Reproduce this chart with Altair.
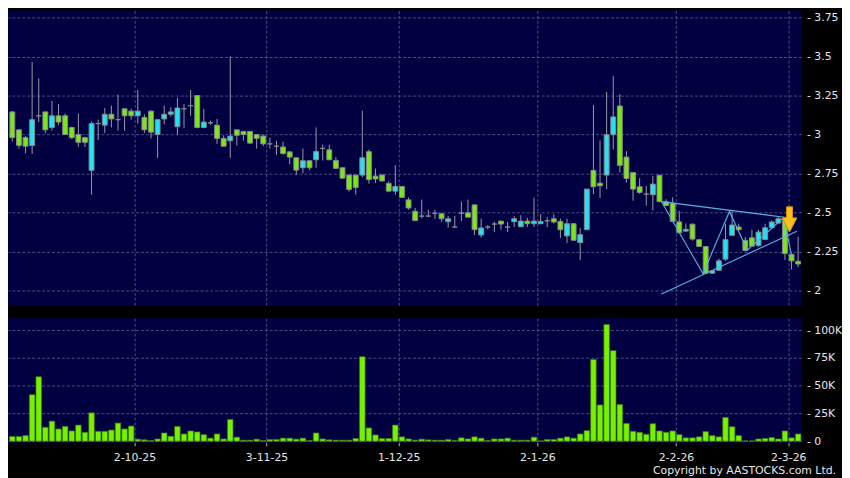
import altair as alt
import pandas as pd

# ---------------- data ----------------
opens = [
    3.145, 3.03, 2.98, 2.93, 3.12, 3.145, 3.045, 3.12, 3.12, 3.045,
    3.0, 2.98, 2.77, 3.07, 3.06, 3.13, 3.095, 3.165, 3.15, 3.12,
    3.11, 3.15, 3.0, 3.10, 3.13, 3.05, 3.165, 3.185, 3.25, 3.045,
    3.075, 3.06, 2.975, 2.96, 3.03, 3.02, 3.02, 3.0, 2.99, 2.94,
    2.925, 2.92, 2.889, 2.851, 2.787, 2.832, 2.838, 2.911, 2.902, 2.834,
    2.787, 2.74, 2.74, 2.74, 2.89, 2.733, 2.741, 2.687, 2.637, 2.667,
    2.581, 2.508, 2.477, 2.477, 2.495, 2.492, 2.441, 2.407, 2.496, 2.498,
    2.549, 2.356, 2.407, 2.426, 2.445, 2.407, 2.441, 2.409, 2.445, 2.428,
    2.428, 2.447, 2.46, 2.443, 2.35, 2.428, 2.307, 2.39, 2.77, 2.688,
    2.74, 2.999, 3.183, 2.855, 2.756, 2.665, 2.618, 2.614, 2.739, 2.569,
    2.56, 2.44, 2.381, 2.425, 2.326, 2.282, 2.111, 2.13, 2.201, 2.354,
    2.407, 2.322, 2.338, 2.289, 2.327, 2.403, 2.432, 2.46, 2.232, 2.187,
]
closes = [
    2.98, 2.93, 2.925, 3.095, 3.12, 3.03, 3.12, 3.08, 3.0, 2.98,
    2.95, 2.95, 3.07, 3.07, 3.13, 3.10, 3.095, 3.12, 3.12, 3.15,
    3.03, 3.015, 3.095, 3.13, 3.145, 3.17, 3.165, 3.185, 3.045, 3.08,
    3.075, 2.975, 2.925, 2.99, 2.995, 3.0, 2.945, 2.975, 2.94, 2.94,
    2.925, 2.878, 2.855, 2.772, 2.832, 2.787, 2.891, 2.911, 2.838, 2.783,
    2.72, 2.648, 2.66, 2.851, 2.711, 2.715, 2.702, 2.637, 2.667, 2.597,
    2.529, 2.448, 2.477, 2.477, 2.495, 2.46, 2.46, 2.407, 2.496, 2.47,
    2.39, 2.401, 2.407, 2.426, 2.426, 2.407, 2.46, 2.445, 2.428, 2.445,
    2.443, 2.447, 2.439, 2.39, 2.428, 2.322, 2.358, 2.65, 2.665, 2.671,
    2.999, 3.113, 2.802, 2.718, 2.65, 2.629, 2.618, 2.682, 2.57, 2.545,
    2.443, 2.37, 2.392, 2.33, 2.282, 2.111, 2.127, 2.19, 2.326, 2.42,
    2.39, 2.257, 2.284, 2.375, 2.402, 2.439, 2.46, 2.237, 2.19, 2.17,
]
highs = [
    3.15, 3.03, 2.99, 3.465, 3.36, 3.145, 3.215, 3.195, 3.135, 3.05,
    3.135, 2.985, 3.085, 3.095, 3.17, 3.185, 3.255, 3.165, 3.165, 3.285,
    3.13, 3.155, 3.095, 3.185, 3.175, 3.235, 3.195, 3.285, 3.25, 3.165,
    3.09, 3.10, 2.995, 3.50, 3.03, 3.02, 3.02, 3.0, 3.0, 2.98,
    2.96, 2.955, 2.89, 2.851, 2.91, 2.832, 3.045, 2.935, 2.935, 2.855,
    2.787, 2.74, 2.74, 3.152, 2.904, 2.782, 2.741, 2.70, 2.804, 2.667,
    2.597, 2.53, 2.583, 2.518, 2.518, 2.498, 2.478, 2.479, 2.57, 2.583,
    2.549, 2.46, 2.418, 2.44, 2.445, 2.44, 2.476, 2.483, 2.466, 2.595,
    2.49, 2.47, 2.49, 2.46, 2.46, 2.428, 2.40, 2.65, 3.189, 2.962,
    3.273, 3.376, 3.259, 2.893, 2.756, 2.72, 2.67, 2.735, 2.739, 2.585,
    2.597, 2.51, 2.43, 2.43, 2.326, 2.282, 2.13, 2.205, 2.428, 2.508,
    2.428, 2.343, 2.39, 2.39, 2.428, 2.45, 2.47, 2.47, 2.232, 2.344,
]
lows = [
    2.955, 2.91, 2.88, 2.875, 3.08, 3.01, 3.025, 3.06, 3.0, 2.97,
    2.92, 2.92, 2.615, 2.965, 3.01, 3.045, 3.025, 3.025, 3.095, 3.07,
    3.01, 2.975, 2.85, 3.065, 3.115, 3.0, 3.04, 3.12, 3.04, 3.04,
    3.06, 2.94, 2.92, 2.85, 2.93, 2.96, 2.94, 2.91, 2.925, 2.91,
    2.87, 2.87, 2.81, 2.74, 2.75, 2.77, 2.787, 2.834, 2.838, 2.783,
    2.715, 2.635, 2.615, 2.725, 2.685, 2.69, 2.70, 2.63, 2.614, 2.593,
    2.518, 2.447, 2.462, 2.47, 2.46, 2.44, 2.403, 2.403, 2.445, 2.47,
    2.356, 2.339, 2.393, 2.375, 2.39, 2.375, 2.407, 2.407, 2.407, 2.407,
    2.428, 2.407, 2.43, 2.337, 2.305, 2.32, 2.195, 2.39, 2.618, 2.593,
    2.65, 2.903, 2.756, 2.692, 2.576, 2.62, 2.544, 2.513, 2.565, 2.54,
    2.44, 2.369, 2.375, 2.32, 2.28, 2.107, 2.107, 2.125, 2.19, 2.354,
    2.385, 2.25, 2.284, 2.28, 2.322, 2.403, 2.432, 2.196, 2.136, 2.149,
]
volumes_k = [
    4.2, 4.2, 5, 41.8, 58, 12.5, 18, 11, 13.3, 9.2,
    14.5, 8, 25.5, 8.9, 8.9, 10, 16.3, 11, 13.6, 1.8,
    1.2, 0.6, 2, 7.4, 4.4, 13.3, 6.5, 9.2, 8.3, 5.9,
    2.7, 6.5, 2, 19.6, 3.6, 0.9, 0.9, 1.8, 0.6, 1.5,
    1.5, 2.7, 2.7, 1.8, 2.7, 0.6, 7.4, 2, 1.2, 0.9,
    0.9, 0.9, 2.4, 76, 11.9, 5.6, 2.4, 2.4, 14.5, 3.9,
    2, 0.9, 1.8, 1.2, 0.9, 0.9, 1.5, 0.6, 3, 2,
    3.9, 2.7, 0.6, 2, 2, 2.7, 0.9, 0.9, 0.9, 3.6,
    0.3, 1.5, 1.5, 2.7, 3.9, 2.7, 6.5, 9.5, 73.5, 32.6,
    105, 81.5, 33, 16, 8.9, 8, 6.2, 15.7, 9.2, 8,
    9.2, 5.9, 3, 3, 3.9, 8.6, 5, 3.9, 21.4, 13,
    5, 0.3, 0.3, 2, 2.4, 3.3, 2, 9.2, 3, 6.5,
]

date_tick_pos = [18.5, 38.5, 58.5, 79.5, 100.5, 117.5]
date_tick_labels = ["2-10-25", "3-11-25", "1-12-25", "2-1-26", "2-2-26", "2-3-26"]
price_ticks = [2, 2.25, 2.5, 2.75, 3, 3.25, 3.5, 3.75]
volume_ticks = [0, 25000, 50000, 75000, 100000]

# drawn annotations (index, price)
upper_line_idx = [98.3, 117.2]
upper_line_price = [2.570, 2.468]
lower_line_idx = [98.3, 118.8]
lower_line_price = [1.978, 2.380]
zigzag_idx = [98.3, 104.6, 108.6, 111.3, 116.8, 118.1]
zigzag_price = [2.570, 2.107, 2.507, 2.259, 2.468, 2.208]
arrow_idx = [117.7]
arrow_price = [2.456]
copyright_text = "Copyright by AASTOCKS.com Ltd."

# ---------------- styling ----------------
BG = "#000000"
PANEL = "#000040"
GRID = "#4c4c88"
TEXT = "#e6e6e6"
GREEN = "#7ee51c"
CYAN = "#25e2f2"
FLAT = "#9a9a9a"
WICK = "#9a9aa8"
LINE = "#5ab2e6"
FONT = "DejaVu Sans"

n = len(opens)
direction = []
for o, c in zip(opens, closes):
    direction.append("up" if c > o else ("down" if c < o else "flat"))

df = pd.DataFrame({
    "i": list(range(n)),
    "open": opens, "close": closes, "high": highs, "low": lows,
    "vol": [v * 1000 for v in volumes_k],
    "dir": direction,
})
df["bx1"] = df["i"] - 0.37
df["bx2"] = df["i"] + 0.37
df["vx1"] = df["i"] - 0.42
df["vx2"] = df["i"] + 0.42

W = 802
H_PRICE = 298
H_VOL = 126

x_scale = alt.Scale(domain=[-0.655, 119.5], nice=False, zero=False)
p_scale = alt.Scale(domain=[1.905, 3.795], nice=False, zero=False)
v_scale = alt.Scale(domain=[-1500, 110700], nice=False, zero=False)

label_expr_x = " : ".join(
    f"datum.value == {p} ? '{l}'" for p, l in zip(date_tick_pos, date_tick_labels)
) + " : ''"

x_axis_top = alt.Axis(values=date_tick_pos, grid=True, labels=False, ticks=False,
                      domain=False, title=None, gridColor=GRID, gridDash=[3, 2])
x_axis_bottom = alt.Axis(values=date_tick_pos, grid=True, labels=True, ticks=True,
                         tickSize=3, tickColor="#bbbbbb", domain=False, title=None,
                         gridColor=GRID, gridDash=[3, 2], labelExpr=label_expr_x,
                         labelColor=TEXT, labelFont=FONT, labelFontSize=11,
                         labelPadding=6, labelFlush=False)
p_axis = alt.Axis(orient="right", values=price_ticks, grid=True, ticks=False,
                  domain=False, title=None, gridColor=GRID, gridDash=[3, 2],
                  labelExpr="'- ' + datum.value", labelColor=TEXT, labelFont=FONT,
                  labelFontSize=11, labelPadding=5)
v_axis = alt.Axis(orient="right", values=volume_ticks, grid=True, ticks=False,
                  domain=False, title=None, gridColor=GRID, gridDash=[3, 2],
                  labelExpr="datum.value == 0 ? '- 0' : '- ' + (datum.value / 1000) + 'K'",
                  labelColor=TEXT, labelFont=FONT, labelFontSize=11, labelPadding=5)

base = alt.Chart(df)

wicks = base.mark_rule(color=WICK, strokeWidth=1).encode(
    x=alt.X("i:Q", scale=x_scale, axis=x_axis_top),
    y=alt.Y("low:Q", scale=p_scale, axis=p_axis),
    y2="high:Q",
)
bodies = base.mark_rect(stroke="#858a8a", strokeWidth=1).encode(
    x=alt.X("bx1:Q", scale=x_scale, axis=x_axis_top),
    x2="bx2:Q",
    y=alt.Y("open:Q", scale=p_scale, axis=p_axis),
    y2="close:Q",
    fill=alt.Fill("dir:N", scale=alt.Scale(domain=["up", "down", "flat"],
                                           range=[CYAN, GREEN, FLAT]), legend=None),
)

up_df = pd.DataFrame({"i": upper_line_idx, "p": upper_line_price})
lo_df = pd.DataFrame({"i": lower_line_idx, "p": lower_line_price})
zz_df = pd.DataFrame({"i": zigzag_idx, "p": zigzag_price, "k": list(range(len(zigzag_idx)))})
ar_df = pd.DataFrame({"i": arrow_idx, "p": arrow_price})

def line_layer(d, order=None):
    enc = dict(
        x=alt.X("i:Q", scale=x_scale, axis=x_axis_top),
        y=alt.Y("p:Q", scale=p_scale, axis=p_axis),
    )
    if order:
        enc["order"] = alt.Order(order)
    return alt.Chart(d).mark_line(color=LINE, strokeWidth=1.1).encode(**enc)

arrow_shape = "M-0.24,-1 L0.24,-1 L0.24,-0.12 L0.58,-0.12 L0,1 L-0.58,-0.12 L-0.24,-0.12 Z"
arrow = alt.Chart(ar_df).mark_point(
    shape=arrow_shape, size=640, filled=True, fill="#f6c21c", stroke="#e0900a",
    strokeWidth=1, opacity=1
).encode(
    x=alt.X("i:Q", scale=x_scale, axis=x_axis_top),
    y=alt.Y("p:Q", scale=p_scale, axis=p_axis),
)

price = alt.layer(
    wicks, bodies,
    line_layer(up_df), line_layer(lo_df), line_layer(zz_df, "k:Q"),
    arrow,
).properties(width=W, height=H_PRICE)

vbars = base.mark_rect(fill="#78f000", stroke="#3c7a12", strokeWidth=0.7).encode(
    x=alt.X("vx1:Q", scale=x_scale, axis=x_axis_bottom),
    x2="vx2:Q",
    y=alt.Y("vol:Q", scale=v_scale, axis=v_axis),
    y2=alt.datum(0),
)
copyright = alt.Chart(pd.DataFrame({"t": [copyright_text]})).mark_text(
    align="right", baseline="middle", color=TEXT, font=FONT, fontSize=11
).encode(x=alt.value(837), y=alt.value(154), text="t:N")

volume = alt.layer(vbars, copyright).properties(width=W, height=H_VOL)

chart = alt.vconcat(price, volume, spacing=13).resolve_scale(
    x="independent", y="independent"
).properties(
    padding={"left": 0, "top": 0, "right": 0, "bottom": 0},
    background=BG,
).configure_view(
    fill=PANEL, stroke=None
)

chart.save("out.html", embed_options={"renderer": "svg", "actions": False})
